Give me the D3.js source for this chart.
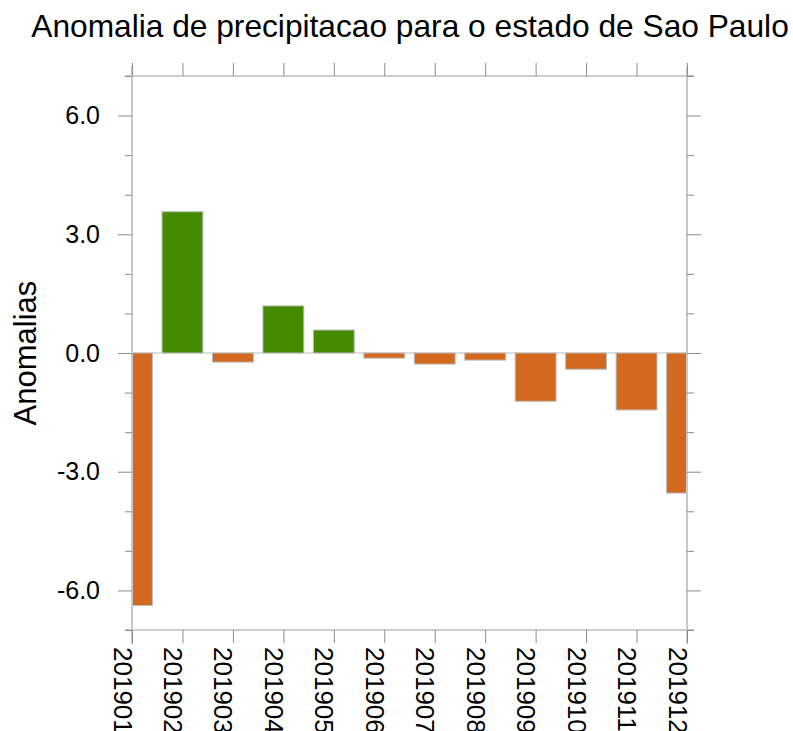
<!DOCTYPE html>
<html>
<head>
<meta charset="utf-8">
<script src="https://cdn.jsdelivr.net/npm/d3@7"></script>
<style>
  body { margin: 0; background: #fff; }
  text { font-family: "Liberation Sans", Arial, sans-serif; fill: #000; }
</style>
</head>
<body>
<script>
// data
let months = ['201901','201902','201903','201904','201905','201906',
              '201907','201908','201909','201910','201911','201912']
let anomalies = [-6.38, 3.57, -0.23, 1.19, 0.58, -0.13, -0.28, -0.18, -1.22, -0.41, -1.44, -3.54]
let yMajor = [-6, -3, 0, 3, 6]
let yMinor = [-7, -5, -4, -2, -1, 1, 2, 4, 5, 7]

let w = 793
let h = 731
let pLeft = 132, pRight = 687, pTop = 76, pBottom = 630

let svg = d3.select('body').append('svg').attr('width', w).attr('height', h)

let x = d3.scaleLinear().domain([0, months.length - 1]).range([pLeft, pRight])
let y = d3.scaleLinear().domain([-7, 7]).range([pBottom, pTop])
let barW = (x(1) - x(0)) * 0.81

svg.append('defs').append('clipPath').attr('id', 'plot')
  .append('rect').attr('x', pLeft).attr('y', pTop).attr('width', pRight - pLeft).attr('height', pBottom - pTop)

// zero line
svg.append('line')
  .attr('x1', pLeft).attr('x2', pRight).attr('y1', y(0)).attr('y2', y(0))
  .attr('stroke', '#bdbdbd').attr('stroke-width', 1.2)

// bars
svg.append('g').attr('clip-path', 'url(#plot)')
  .selectAll('rect')
  .data(anomalies)
  .enter()
  .append('rect')
  .attr('x', (d, i) => x(i) - barW / 2)
  .attr('width', barW)
  .attr('y', d => y(Math.max(d, 0)))
  .attr('height', d => Math.abs(y(d) - y(0)))
  .attr('fill', d => d >= 0 ? '#458b00' : '#d2691e')
  .attr('stroke', '#bcbcbc').attr('stroke-width', 1)

// frame
let frame = svg.append('g')
frame.append('line').attr('x1', pLeft - 7).attr('x2', pRight + 7).attr('y1', pTop).attr('y2', pTop)
  .attr('stroke', '#9a9a9a').attr('stroke-width', 1)
frame.append('line').attr('x1', pLeft - 7).attr('x2', pRight + 7).attr('y1', pBottom).attr('y2', pBottom)
  .attr('stroke', '#9a9a9a').attr('stroke-width', 1)
frame.append('line').attr('x1', pLeft).attr('x2', pLeft).attr('y1', pTop - 10).attr('y2', pBottom + 14)
  .attr('stroke', '#c8c8c8').attr('stroke-width', 2)
frame.append('line').attr('x1', pRight).attr('x2', pRight).attr('y1', pTop - 10).attr('y2', pBottom + 14)
  .attr('stroke', '#c8c8c8').attr('stroke-width', 2)

// axes, ticks pointing outwards
let fmt = d => d3.format('.1f')(d).replace('\u2212', '-')
let xb = svg.append('g').attr('transform', 'translate(0,' + pBottom + ')')
  .call(d3.axisBottom(x).tickValues(d3.range(months.length)).tickSize(13)
    .tickFormat(i => months[i]))
let xt = svg.append('g').attr('transform', 'translate(0,' + pTop + ')')
  .call(d3.axisTop(x).tickValues(d3.range(months.length)).tickSize(13).tickFormat(''))
let yl = svg.append('g').attr('transform', 'translate(' + pLeft + ',0)')
  .call(d3.axisLeft(y).tickValues(yMajor).tickSize(14).tickPadding(18).tickFormat(fmt))
let yr = svg.append('g').attr('transform', 'translate(' + pRight + ',0)')
  .call(d3.axisRight(y).tickValues(yMajor).tickSize(14).tickFormat(''))
let ylm = svg.append('g').attr('transform', 'translate(' + pLeft + ',0)')
  .call(d3.axisLeft(y).tickValues(yMinor).tickSize(7).tickFormat(''))
let yrm = svg.append('g').attr('transform', 'translate(' + pRight + ',0)')
  .call(d3.axisRight(y).tickValues(yMinor).tickSize(7).tickFormat(''))

svg.selectAll('.domain').remove()
svg.selectAll('.tick line').attr('stroke', '#8c8c8c').attr('stroke-width', 1)

yl.selectAll('text').style('font-size', '25px').attr('font-family', null)
xb.selectAll('text')
  .style('font-size', '26px').attr('font-family', null)
  .attr('text-anchor', 'start')
  .attr('dy', null)
  .attr('transform', 'rotate(90)')
  .attr('x', 17).attr('y', 19)

// titles
svg.append('text').attr('x', 410).attr('y', 37).attr('text-anchor', 'middle')
  .style('font-size', '31.7px').text('Anomalia de precipitacao para o estado de Sao Paulo')

svg.append('text').attr('transform', 'translate(36,' + 353 + ') rotate(-90)')
  .attr('text-anchor', 'middle')
  .style('font-size', '31px').text('Anomalias')
</script>
</body>
</html>
